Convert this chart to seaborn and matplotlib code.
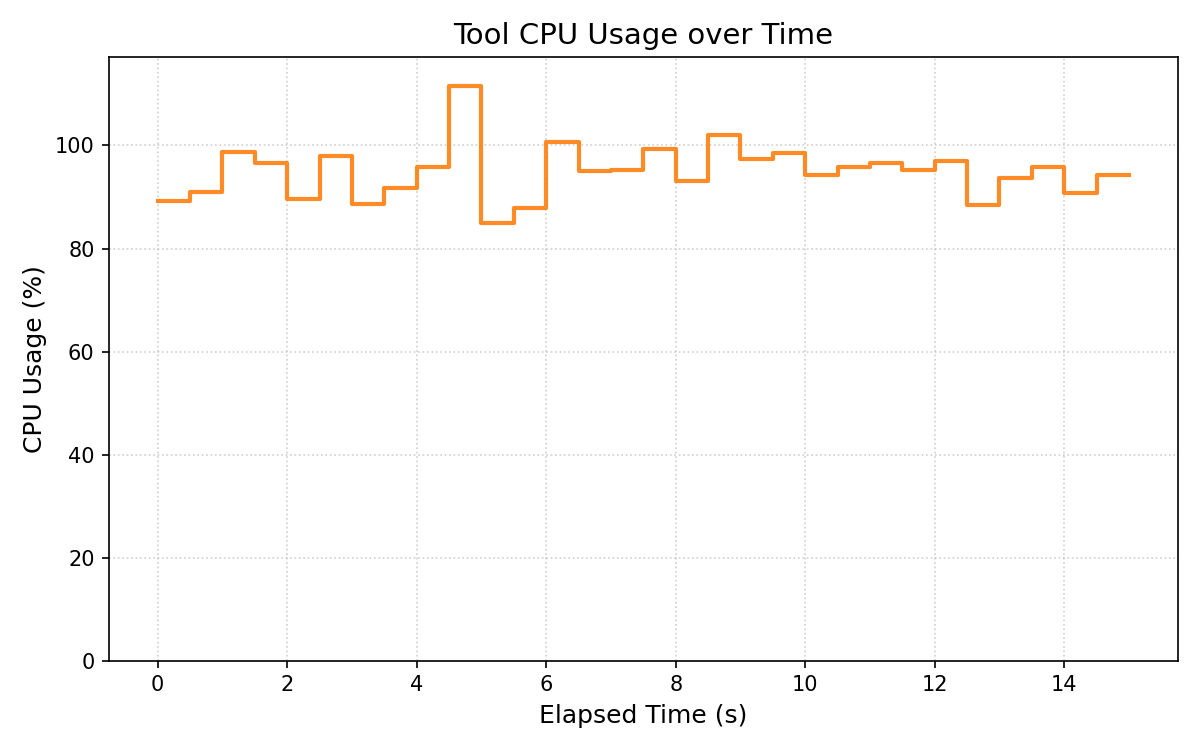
import numpy as np
import pandas as pd
import matplotlib
matplotlib.use("Agg")
import matplotlib.pyplot as plt
import seaborn as sns

# samples every 0.5 s, last value repeated so the final step reaches 15 s
elapsed_s = [0.0, 0.5, 1.0, 1.5, 2.0, 2.5, 3.0, 3.5, 4.0, 4.5, 5.0,
             5.5, 6.0, 6.5, 7.0, 7.5, 8.0, 8.5, 9.0, 9.5, 10.0,
             10.5, 11.0, 11.5, 12.0, 12.5, 13.0, 13.5, 14.0, 14.5, 15.0]
cpu_pct = [89.3, 90.9, 98.8, 96.6, 89.7, 97.9, 88.6, 91.7, 95.8, 111.6, 85.0,
           87.8, 100.7, 95.0, 95.3, 99.3, 93.1, 102.1, 97.3, 98.6, 94.2,
           95.8, 96.6, 95.3, 97.0, 88.4, 93.6, 95.8, 90.8, 94.3, 94.3]

df = pd.DataFrame({"Elapsed Time (s)": elapsed_s, "CPU Usage (%)": cpu_pct})

fig, ax = plt.subplots(figsize=(8, 5), dpi=150)
sns.lineplot(data=df, x="Elapsed Time (s)", y="CPU Usage (%)", ax=ax,
             drawstyle="steps-post", color="tab:orange", alpha=0.9, linewidth=2)

ax.set_ylim(0, max(cpu_pct) * 1.05)
ax.set_title("Tool CPU Usage over Time", fontsize=14)
ax.set_xlabel("Elapsed Time (s)", fontsize=12)
ax.set_ylabel("CPU Usage (%)", fontsize=12)
ax.grid(True, linestyle=":", alpha=0.6)

plt.tight_layout()
plt.savefig("out.png", dpi=150)
